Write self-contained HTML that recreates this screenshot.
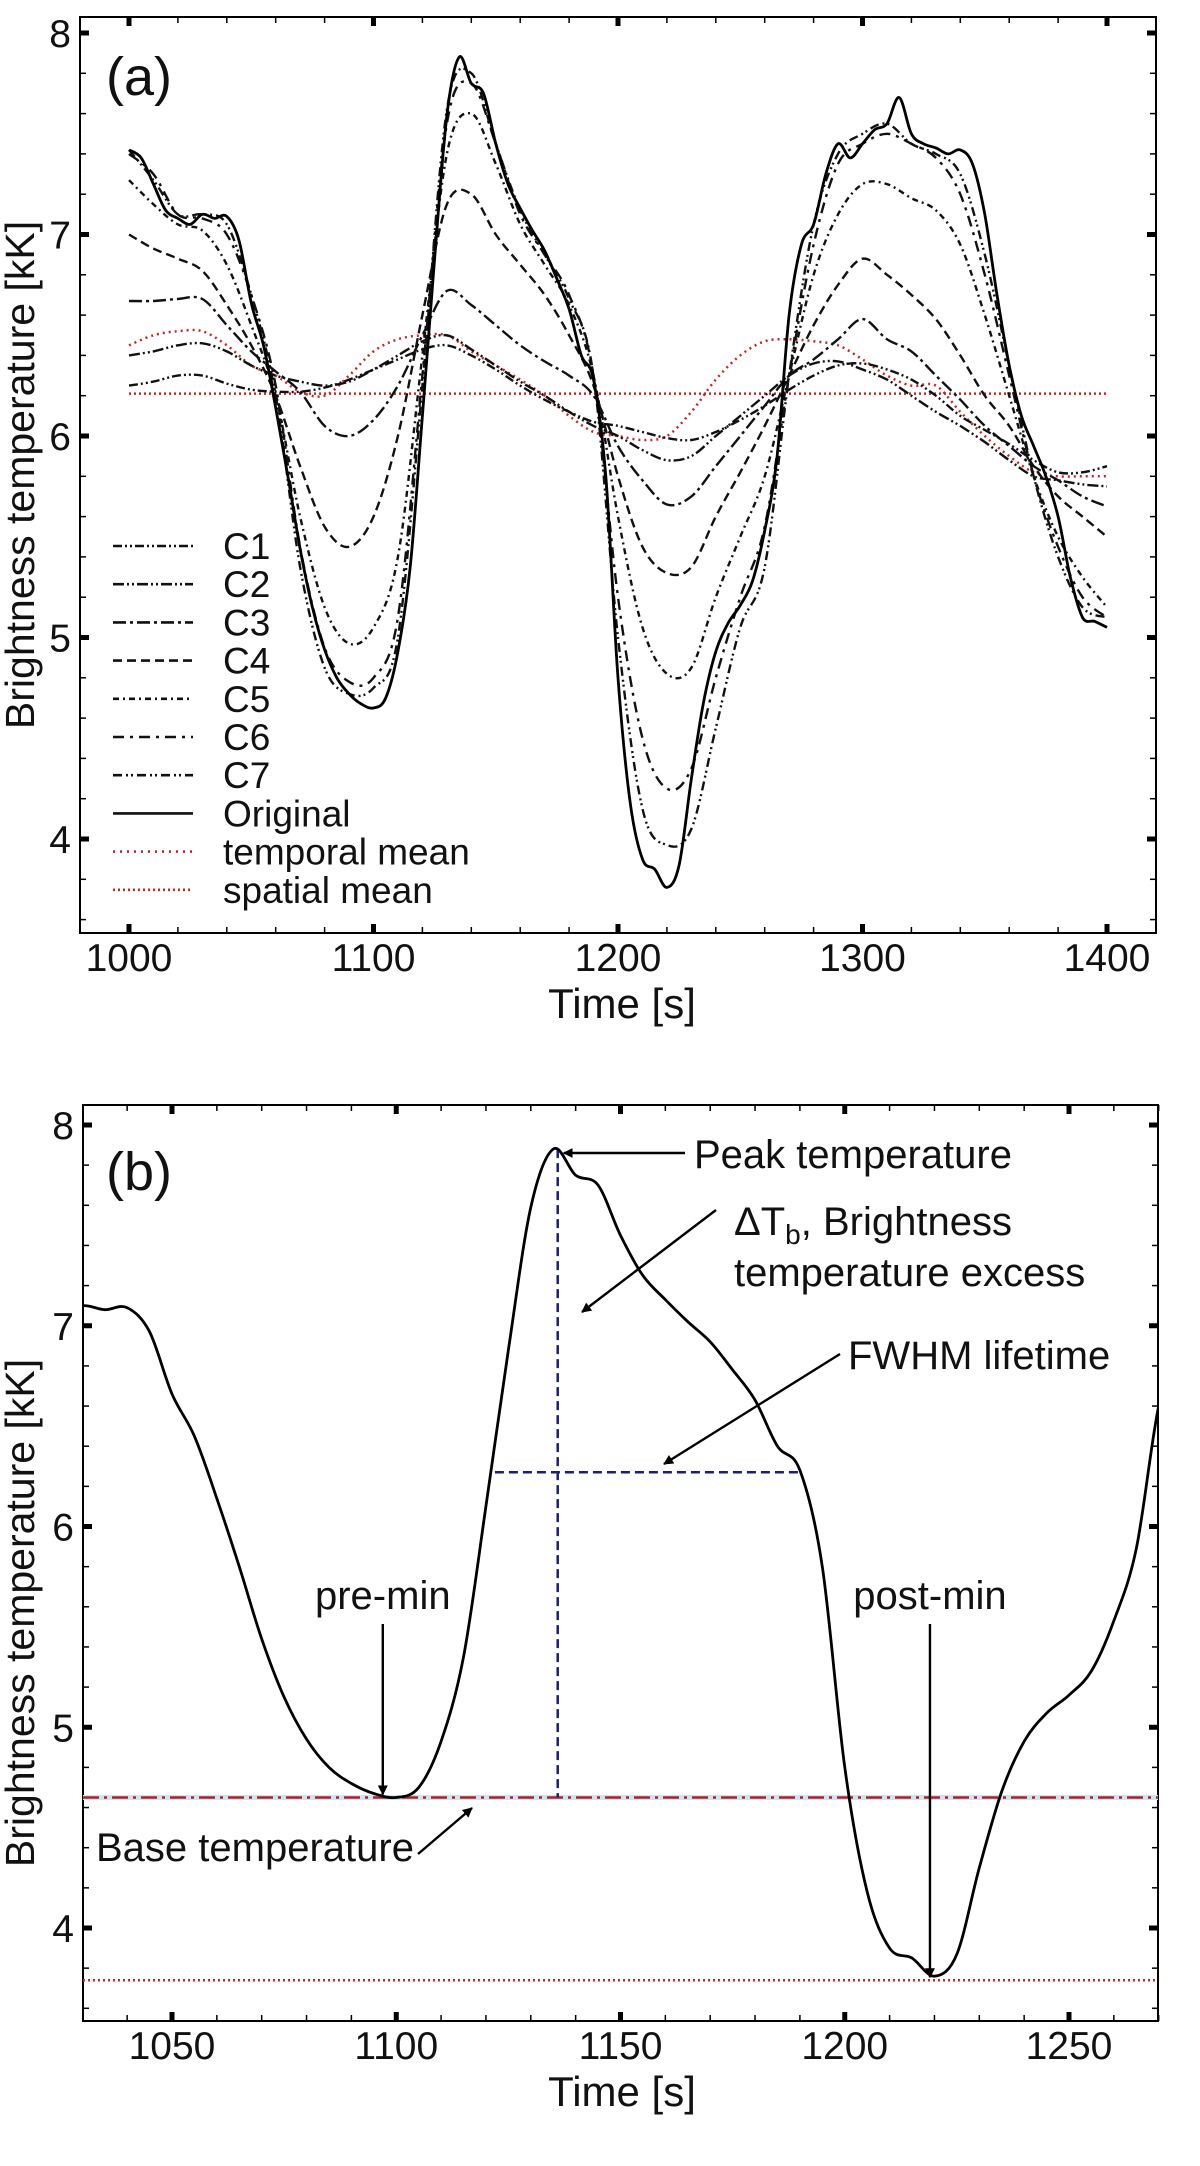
<!DOCTYPE html>
<html><head><meta charset="utf-8">
<style>
html,body{margin:0;padding:0;background:#fff;}
svg{display:block;font-family:"Liberation Sans",sans-serif;}
</style></head>
<body>
<svg id="fig" width="1200" height="2166" viewBox="0 0 1200 2166" xmlns="http://www.w3.org/2000/svg">
<defs>
<marker id="ah" markerWidth="10" markerHeight="10" refX="9" refY="5" orient="auto" markerUnits="userSpaceOnUse"><path d="M0,0 L10,5 L0,10 z" fill="#000"/></marker>
</defs>
<g id="pa"></g>
<g id="pb"></g>
</svg>
<script>
// ---- Panel (a) data ----
const timesA = [1000,1010,1020,1030,1040,1050,1060,1070,1080,1090,1100,1110,1120,1130,1140,1150,1160,1170,1180,1190,1200,1210,1220,1230,1240,1250,1260,1270,1280,1290,1300,1310,1320,1330,1340,1350,1360,1370,1380,1390,1400];
const c1 = [6.25,6.27,6.3,6.3,6.26,6.23,6.22,6.22,6.24,6.28,6.33,6.38,6.43,6.45,6.4,6.33,6.25,6.18,6.12,6.07,6.05,6.02,5.99,5.98,6.02,6.08,6.15,6.23,6.3,6.35,6.36,6.33,6.28,6.2,6.1,6.03,5.96,5.88,5.82,5.82,5.85];
const c2 = [6.4,6.42,6.45,6.46,6.42,6.35,6.3,6.27,6.25,6.27,6.33,6.4,6.47,6.5,6.43,6.35,6.27,6.2,6.12,6.05,6.0,5.93,5.88,5.9,6.0,6.1,6.2,6.3,6.36,6.37,6.33,6.28,6.2,6.12,6.05,5.97,5.88,5.8,5.78,5.76,5.75];
const c3 = [6.67,6.67,6.68,6.68,6.55,6.42,6.32,6.22,6.05,6.0,6.08,6.25,6.5,6.72,6.65,6.55,6.45,6.37,6.3,6.2,5.95,5.78,5.66,5.7,5.85,6.0,6.15,6.3,6.38,6.48,6.58,6.48,6.42,6.3,6.18,6.05,5.95,5.85,5.78,5.7,5.65];
const c4 = [7.0,6.93,6.88,6.82,6.65,6.45,6.2,5.85,5.55,5.45,5.6,6.0,6.6,7.15,7.2,7.0,6.85,6.7,6.5,6.25,5.8,5.45,5.32,5.35,5.6,5.82,6.05,6.3,6.55,6.75,6.88,6.8,6.7,6.58,6.4,6.2,6.05,5.85,5.7,5.6,5.5];
const c5 = [7.27,7.15,7.05,7.02,6.85,6.55,6.2,5.6,5.15,4.97,5.05,5.4,6.4,7.4,7.6,7.35,7.05,6.85,6.65,6.3,5.6,5.05,4.82,4.85,5.2,5.5,5.8,6.3,6.8,7.1,7.25,7.25,7.18,7.12,6.95,6.6,6.2,5.8,5.5,5.3,5.15];
const c6 = [7.4,7.3,7.1,7.08,7.0,6.7,6.25,5.45,4.95,4.78,4.8,5.1,6.3,7.55,7.75,7.45,7.1,6.9,6.7,6.3,5.2,4.5,4.25,4.35,4.8,5.2,5.55,6.3,6.95,7.35,7.45,7.5,7.45,7.38,7.2,6.8,6.3,5.8,5.45,5.2,5.1];
const c7 = [7.42,7.27,7.1,7.1,7.05,6.7,6.2,5.35,4.85,4.72,4.75,5.0,6.25,7.62,7.8,7.45,7.12,6.9,6.68,6.3,5.0,4.15,3.97,4.05,4.55,5.05,5.35,6.3,7.05,7.4,7.5,7.55,7.45,7.4,7.3,6.9,6.35,5.8,5.4,5.15,5.1];
const temporalMean = [6.45,6.5,6.52,6.52,6.45,6.35,6.3,6.22,6.2,6.3,6.42,6.48,6.5,6.5,6.42,6.35,6.28,6.2,6.1,6.02,6.0,5.98,6.0,6.12,6.28,6.4,6.47,6.48,6.47,6.45,6.38,6.3,6.25,6.25,6.12,6.0,5.9,5.82,5.8,5.8,5.8];
const spatialMean = 6.21;
const timesOrig = [1000,1005,1010,1015,1020,1025,1030,1035,1040,1045,1050,1055,1060,1065,1070,1075,1080,1085,1090,1095,1100,1105,1110,1115,1120,1125,1130,1135,1140,1145,1150,1155,1160,1165,1170,1175,1180,1185,1190,1195,1200,1205,1210,1215,1220,1225,1230,1235,1240,1245,1250,1255,1260,1265,1270,1275,1280,1285,1290,1295,1300,1305,1310,1315,1320,1325,1330,1335,1340,1345,1350,1355,1360,1365,1370,1375,1380,1385,1390,1395,1400];
const original = [7.42,7.38,7.25,7.12,7.08,7.05,7.1,7.08,7.09,6.97,6.66,6.45,6.14,5.8,5.44,5.15,4.94,4.8,4.72,4.67,4.65,4.7,4.93,5.35,6.1,6.88,7.59,7.88,7.75,7.7,7.45,7.25,7.13,7.02,6.92,6.78,6.63,6.4,6.28,5.8,4.8,4.18,3.9,3.85,3.76,3.87,4.3,4.68,4.93,5.07,5.16,5.28,5.53,5.89,6.6,6.95,7.05,7.3,7.45,7.38,7.45,7.52,7.55,7.68,7.5,7.45,7.43,7.4,7.42,7.35,7.1,6.7,6.35,6.1,5.95,5.8,5.6,5.3,5.1,5.08,5.05];
const xTicksA = [1000,1100,1200,1300,1400];
const yTicksA = [4,5,6,7,8];
const legendLabels = ["C1","C2","C3","C4","C5","C6","C7","Original","temporal mean","spatial mean"];
// ---- Panel (b) data ----
const xTicksB = [1050,1100,1150,1200,1250];
const yTicksB = [4,5,6,7,8];
const baseTemp = 4.65, peakTemp = 7.88, peakTime = 1136, postMin = 3.74;
const fwhmStart = 1122, fwhmEnd = 1190, fwhmLevel = 6.27;
const preMinTime = 1097, postMinTime = 1219;

const NS = "http://www.w3.org/2000/svg";
function mk(parent, tag, attrs){ const e=document.createElementNS(NS,tag); for(const k in attrs) e.setAttribute(k,attrs[k]); parent.appendChild(e); return e; }
function smooth(pts){
  let d="M"+pts[0][0].toFixed(1)+","+pts[0][1].toFixed(1);
  for(let i=0;i<pts.length-1;i++){
    const p0=pts[Math.max(0,i-1)],p1=pts[i],p2=pts[i+1],p3=pts[Math.min(pts.length-1,i+2)];
    const c1x=p1[0]+(p2[0]-p0[0])/6,c1y=p1[1]+(p2[1]-p0[1])/6,c2x=p2[0]-(p3[0]-p1[0])/6,c2y=p2[1]-(p3[1]-p1[1])/6;
    d+=" C"+c1x.toFixed(1)+","+c1y.toFixed(1)+" "+c2x.toFixed(1)+","+c2y.toFixed(1)+" "+p2[0].toFixed(1)+","+p2[1].toFixed(1);
  }
  return d;
}
function frame(g, L,T,R,B, x, y, xmin,xmax,xMinor, ymin,ymax,yMinor, xt, yt){
  const ax = mk(g,"rect",{x:L,y:T,width:R-L,height:B-T,fill:"none",stroke:"#000","stroke-width":2});
  
  
  for(let v=Math.ceil(xmin/xMinor)*xMinor; v<=xmax; v+=xMinor){
    const X=x(v), maj=xt.includes(v);
    [[B,B-(maj?9:6)],[T,T+(maj?9:6)]].forEach(([a,b])=>{ const t=mk(g,"line",{x1:X,x2:X,y1:a,y2:b,stroke:"#000","stroke-width":maj?5:1.5});   });
  }
  for(let i=Math.ceil(ymin/yMinor-1e-6); i*yMinor<=ymax+1e-6; i++){
    const v=+(i*yMinor).toFixed(2), Y=y(v), maj=yt.includes(v);
    [[L,L+(maj?9:6)],[R,R-(maj?9:6)]].forEach(([a,b])=>{ const t=mk(g,"line",{x1:a,x2:b,y1:Y,y2:Y,stroke:"#000","stroke-width":maj?5:1.5});   });
  }
  xt.forEach(v=>{ const t=mk(g,"text",{x:x(v),y:B+38,"font-size":39,"text-anchor":"middle",fill:"#111"}); t.textContent=v;   });
  yt.forEach(v=>{ const t=mk(g,"text",{x:L-9,y:y(v)+14,"font-size":39,"text-anchor":"end",fill:"#111"}); t.textContent=v;   });
}

// ===== Panel A =====
(function(){
  const g=document.getElementById("pa");
  const L=80,T=17,R=1156,B=933;
  const x=v=>129+(v-1000)*(1107-129)/400;
  const y=v=>33+(8-v)*201.5;
  frame(g,L,T,R,B,x,y,980,1420,20,3.53,8.08,0.2,xTicksA,yTicksA);
  const styles=[[c1,"9,3,2,3,2,3"],[c2,"11,3,2,3,2,3"],[c3,"13,4,3,4"],[c4,"9,5"],[c5,"6,4,2,4"],[c6,"11,6,3,6"],[c7,"9,4,2,3,2,4"]];
  const sp=mk(g,"line",{x1:x(1000),x2:x(1400),y1:y(spatialMean),y2:y(spatialMean),stroke:"#c0282d","stroke-width":2.5,"stroke-dasharray":"2,3"});
   
  const tm=mk(g,"path",{d:smooth(timesA.map((t,i)=>[x(t),y(temporalMean[i])])),fill:"none",stroke:"#c0282d","stroke-width":2.5,"stroke-dasharray":"2,4"});
   
  styles.forEach((s,k)=>{
    const p=mk(g,"path",{d:smooth(timesA.map((t,i)=>[x(t),y(s[0][i])])),fill:"none",stroke:"#111","stroke-width":2.4,"stroke-dasharray":s[1]});
     
  });
  const o=mk(g,"path",{d:smooth(timesOrig.map((t,i)=>[x(t),y(original[i])])),fill:"none",stroke:"#000","stroke-width":2.8});
   
  const lg=mk(g,"g",{});  
  legendLabels.forEach((lab,i)=>{
    const Y=546+i*38.2;
    let st={stroke:"#111","stroke-width":2.6};
    if(i<7) st["stroke-dasharray"]=styles[i][1];
    if(i>=8){ st.stroke="#c0282d"; st["stroke-dasharray"]=i==8?"2,5":"2,3"; }
    const ln=mk(lg,"line",Object.assign({x1:113,x2:193,y1:Y,y2:Y},st));
     
    const t=mk(lg,"text",{x:223,y:Y+13,"font-size":37,fill:"#111"}); t.textContent=lab;
     
  });
  const pl=mk(g,"text",{x:106,y:95,"font-size":54,fill:"#111"}); pl.textContent="(a)";
   
  const xl=mk(g,"text",{x:622,y:1018,"font-size":42,"text-anchor":"middle",fill:"#111"}); xl.textContent="Time [s]";
   
  const yl=mk(g,"text",{x:0,y:0,"font-size":41,"text-anchor":"middle",fill:"#111",transform:"translate(34,475) rotate(-90)"}); yl.textContent="Brightness temperature [kK]";
   
})();

// ===== Panel B =====
(function(){
  const g=document.getElementById("pb");
  const L=83,T=1105,R=1158,B=2021;
  const x=v=>172+(v-1050)*(1069-172)/200;
  const y=v=>1125+(8-v)*200.75;
  frame(g,L,T,R,B,x,y,1030.2,1270,10,3.54,8.09,0.2,xTicksB,yTicksB);
  const cp=mk(g,"clipPath",{id:"cb"}); mk(cp,"rect",{x:L,y:T,width:R-L,height:B-T});
  const bl0=mk(g,"line",{x1:L,x2:R,y1:y(baseTemp),y2:y(baseTemp),stroke:"#cfe3f0","stroke-width":5});
   
  const bl=mk(g,"line",{x1:L,x2:R,y1:y(baseTemp),y2:y(baseTemp),stroke:"#b22026","stroke-width":2.5,"stroke-dasharray":"16,5,3,5"});
   
  const pm=mk(g,"line",{x1:L,x2:R,y1:y(postMin),y2:y(postMin),stroke:"#c0282d","stroke-width":2.5,"stroke-dasharray":"2,3"});
   
  const vd=mk(g,"line",{x1:x(peakTime),x2:x(peakTime),y1:y(peakTemp),y2:y(baseTemp),stroke:"#1c1f7a","stroke-width":2.5,"stroke-dasharray":"9,5"});
   
  const fw=mk(g,"line",{x1:x(fwhmStart),x2:x(fwhmEnd),y1:y(fwhmLevel),y2:y(fwhmLevel),stroke:"#1c1f7a","stroke-width":2.5,"stroke-dasharray":"9,5"});
   
  const o=mk(g,"path",{d:smooth(timesOrig.map((t,i)=>[x(t),y(original[i])])),fill:"none",stroke:"#000","stroke-width":2.8,"clip-path":"url(#cb)"});
   
  function arrow(name,x1,y1,x2,y2){ const a=mk(g,"line",{x1,y1,x2,y2,stroke:"#000","stroke-width":2.4,"marker-end":"url(#ah)"});   }
  function txt(name,s,X,Y,anchor){ const t=mk(g,"text",{x:X,y:Y,"font-size":40,fill:"#111","text-anchor":anchor||"start"}); t.innerHTML=s;   return t; }
  arrow('peak-arrow',685,1153,x(peakTime)+6,1153);
  txt('peak-label',"Peak temperature",694,1168);
  arrow('delta-arrow',716,1210,582,1312);
  txt('delta-label','ΔT<tspan font-size="28" dy="9">b</tspan><tspan dy="-9">, Brightness</tspan>',734,1235);
  txt('delta-label-2',"temperature excess",734,1286);
  arrow('fwhm-arrow',840,1354,664,1464);
  txt('fwhm-label',"FWHM lifetime",848,1369);
  arrow('pre-min-arrow',x(preMinTime),1624,x(preMinTime),y(baseTemp)-3);
  txt('pre-min-label',"pre-min",x(preMinTime),1609,"middle");
  arrow('post-min-arrow',x(postMinTime),1624,x(postMinTime),y(postMin)-3);
  txt('post-min-label',"post-min",x(postMinTime),1609,"middle");
  arrow('base-arrow',418,1854,472,1808);
  txt('base-label',"Base temperature",96,1861);
  const pl=mk(g,"text",{x:106,y:1190,"font-size":54,fill:"#111"}); pl.textContent="(b)";
   
  const xl=mk(g,"text",{x:622,y:2106,"font-size":42,"text-anchor":"middle",fill:"#111"}); xl.textContent="Time [s]";
   
  const yl=mk(g,"text",{x:0,y:0,"font-size":41,"text-anchor":"middle",fill:"#111",transform:"translate(34,1613) rotate(-90)"}); yl.textContent="Brightness temperature [kK]";
   
})();
</script>
</body></html>
